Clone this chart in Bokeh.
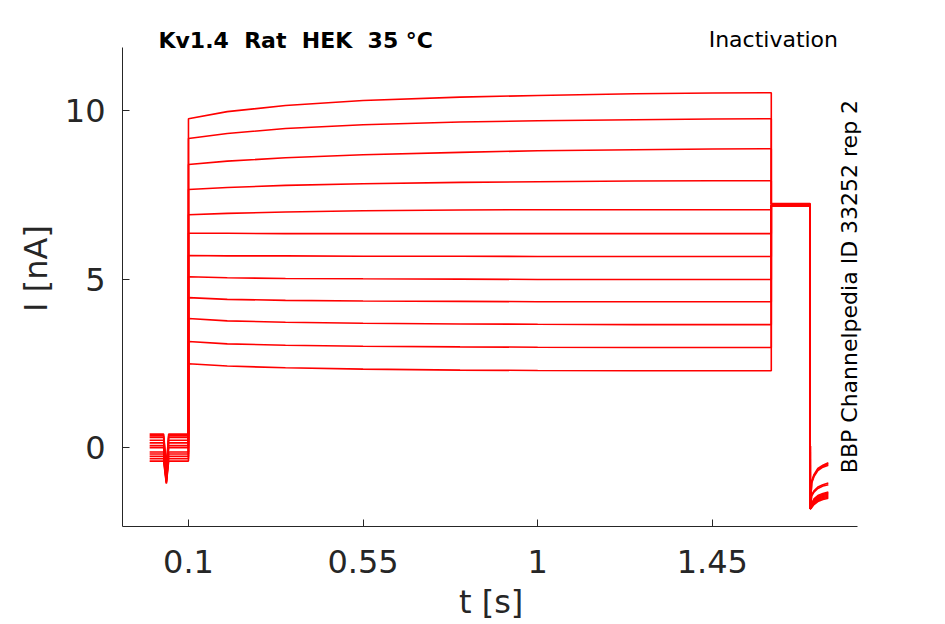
from bokeh.plotting import figure
from bokeh.models import FixedTicker, Label, Range1d
from bokeh.embed import file_html
from bokeh.resources import INLINE

# ---------------- data ----------------
x_ticks = [0.1, 0.55, 1, 1.45]
x_tick_labels = ["0.1", "0.55", "1", "1.45"]
y_ticks = [0, 5, 10]
y_tick_labels = ["0", "5", "10"]

# holding period before the conditioning step
pre_t = [0.0, 0.036, 0.043, 0.049, 0.1]
pre_levels = [0.40, 0.35, 0.30, 0.22, 0.14, 0.06, 0.0, -0.13, -0.19, -0.26, -0.33, -0.40]
spike_levels = [-0.55, -0.65, -0.70, -0.75, -0.80, -0.85, -0.90, -0.95, -1.00, -1.02, -1.05, -1.07]

# conditioning step (t = 0.1 .. 1.602 s)
step_t = [0.1, 0.2, 0.35, 0.55, 0.8, 1.0, 1.25, 1.45, 1.602]
step_values = [
    [9.76, 9.97, 10.15, 10.30, 10.40, 10.45, 10.50, 10.52, 10.53],
    [9.17, 9.32, 9.47, 9.58, 9.66, 9.70, 9.73, 9.75, 9.76],
    [8.40, 8.50, 8.60, 8.69, 8.76, 8.81, 8.84, 8.86, 8.87],
    [7.66, 7.72, 7.78, 7.83, 7.87, 7.89, 7.91, 7.92, 7.92],
    [6.91, 6.95, 6.99, 7.03, 7.05, 7.06, 7.06, 7.06, 7.06],
    [6.36, 6.36, 6.35, 6.35, 6.35, 6.35, 6.35, 6.35, 6.35],
    [5.70, 5.69, 5.69, 5.68, 5.68, 5.67, 5.67, 5.67, 5.67],
    [5.07, 5.04, 5.02, 5.01, 5.00, 4.99, 4.99, 4.99, 4.99],
    [4.45, 4.40, 4.37, 4.35, 4.34, 4.33, 4.33, 4.33, 4.33],
    [3.83, 3.76, 3.72, 3.69, 3.67, 3.66, 3.65, 3.65, 3.65],
    [3.15, 3.08, 3.04, 3.01, 2.99, 2.98, 2.97, 2.97, 2.97],
    [2.49, 2.42, 2.37, 2.33, 2.30, 2.29, 2.28, 2.28, 2.28],
]

# test pulse (t = 1.602 .. 1.702 s)
tail_t = [1.602, 1.702]
tail_levels = [7.24, 7.23, 7.22, 7.21, 7.20, 7.20, 7.19, 7.19, 7.18, 7.18, 7.17, 7.17]

# after the test pulse
rec_t = [1.7025, 1.706, 1.712, 1.722, 1.735, 1.749]
rec_values = [
    [-1.82, -1.00, -0.80, -0.62, -0.52, -0.45],
    [-1.82, -1.03, -0.83, -0.65, -0.55, -0.48],
    [-1.82, -1.06, -0.86, -0.68, -0.58, -0.52],
    [-1.82, -1.40, -1.28, -1.17, -1.10, -1.05],
    [-1.82, -1.44, -1.32, -1.21, -1.14, -1.10],
    [-1.82, -1.66, -1.52, -1.42, -1.36, -1.32],
    [-1.82, -1.68, -1.55, -1.45, -1.39, -1.35],
    [-1.82, -1.70, -1.58, -1.48, -1.42, -1.38],
    [-1.82, -1.72, -1.61, -1.51, -1.45, -1.41],
    [-1.82, -1.74, -1.63, -1.54, -1.48, -1.44],
    [-1.82, -1.76, -1.66, -1.57, -1.51, -1.47],
    [-1.82, -1.78, -1.69, -1.60, -1.54, -1.50],
]

# double spaces kept visible with a no-break space
title_text = "Kv1.4 \u00a0Rat \u00a0HEK \u00a035 °C"
protocol_text = "Inactivation"
side_text = "BBP Channelpedia ID 33252 rep 2"
x_label = "t [s]"
y_label = "I [nA]"

# axis extents (the visible spines)
x_bounds = (-0.070, 1.824)
y_bounds = (-2.34, 11.87)

# ---------------- figure ----------------
W, H = 940, 624
p = figure(width=W, height=H, output_backend="svg", toolbar_location=None,
           x_range=Range1d(-0.070, 1.935), y_range=Range1d(-2.34, 12.97),
           min_border_left=122, min_border_right=40,
           min_border_top=10, min_border_bottom=98)
p.outline_line_color = None
p.grid.visible = False
p.background_fill_color = "white"
p.border_fill_color = "white"

xs, ys = [], []
for i in range(len(step_values)):
    pre = [pre_levels[i], pre_levels[i], spike_levels[i], pre_levels[i], pre_levels[i]]
    xs.append(pre_t + step_t + tail_t + rec_t)
    ys.append(pre + step_values[i] + [tail_levels[i], tail_levels[i]] + rec_values[i])

p.multi_line(xs, ys, line_color="#ff0000", line_width=1.6)

axis_color = "#262626"
for ax in (p.xaxis[0], p.yaxis[0]):
    ax.axis_line_color = axis_color
    ax.major_tick_line_color = axis_color
    ax.major_tick_in = 7
    ax.major_tick_out = 0
    ax.minor_tick_line_color = None
    ax.major_label_text_color = axis_color
    ax.major_label_text_font = "DejaVu Sans"
    ax.major_label_text_font_size = "32px"
    ax.axis_label_text_color = axis_color
    ax.axis_label_text_font = "DejaVu Sans"
    ax.axis_label_text_font_size = "32px"
    ax.axis_label_text_font_style = "normal"

p.xaxis.bounds = x_bounds
p.yaxis.bounds = y_bounds
p.xaxis.ticker = FixedTicker(ticks=x_ticks)
p.xaxis.major_label_overrides = {t: s for t, s in zip(x_ticks, x_tick_labels)}
p.yaxis.ticker = FixedTicker(ticks=y_ticks)
p.yaxis.major_label_overrides = {t: s for t, s in zip(y_ticks, y_tick_labels)}
# trailing no-break spaces centre the label under the spine rather than the wider frame
p.xaxis.axis_label = x_label + "\u00a0" * 4
p.yaxis.axis_label = y_label
p.xaxis.major_label_standoff = 23
p.yaxis.major_label_standoff = 17
p.xaxis.axis_label_standoff = 7
p.yaxis.axis_label_standoff = 7

p.add_layout(Label(x=0.0227, y=12.08, text=title_text, text_font="DejaVu Sans",
                   text_font_size="22px", text_font_style="bold", text_color="black",
                   text_align="left", text_baseline="middle"))
p.add_layout(Label(x=1.774, y=12.1, text=protocol_text, text_font="DejaVu Sans",
                   text_font_size="22px", text_color="black",
                   text_align="right", text_baseline="middle"))
p.add_layout(Label(x=1.803, y=4.78, text=side_text, text_font="DejaVu Sans",
                   text_font_size="22px", text_color="black", angle=1.5707963,
                   text_align="center", text_baseline="middle"))

open("out.html", "w").write(file_html(p, INLINE))
